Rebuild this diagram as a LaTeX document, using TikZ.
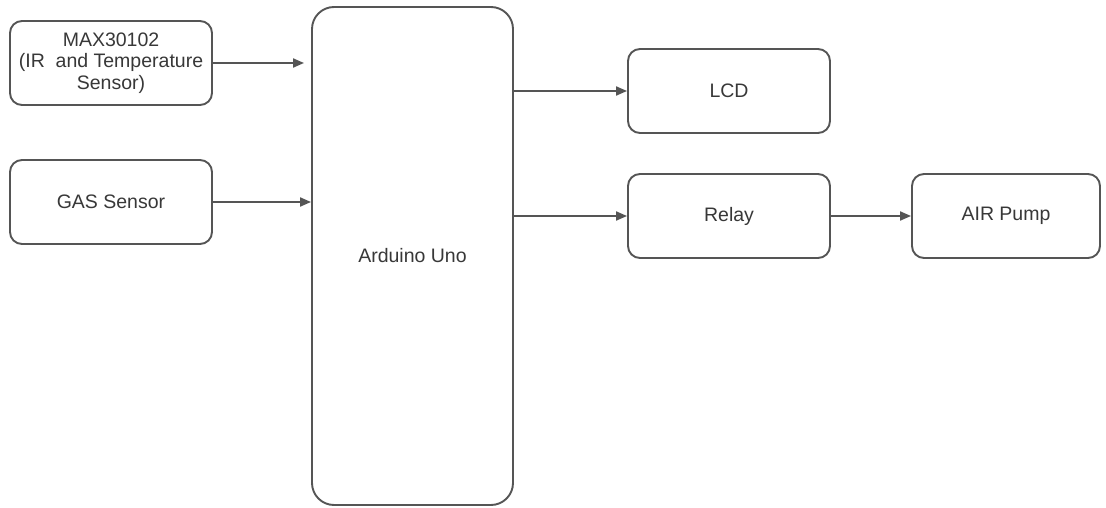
\documentclass[tikz,border=0pt]{standalone}
\usepackage{fontspec}
\setmainfont{Liberation Sans}
\usetikzlibrary{arrows.meta}
\definecolor{linegray}{HTML}{555555}
\definecolor{textgray}{HTML}{383838}
\tikzset{
  blk/.style={draw=linegray, line width=1.9pt, rounded corners=12pt, fill=white,
    minimum width=202pt, minimum height=84pt, inner sep=0pt, align=center,
    text=textgray, font=\fontsize{19.5pt}{21.5pt}\selectfont},
  conn/.style={draw=linegray, line width=2pt, -{Triangle[length=11pt,width=9pt]}}
}
\begin{document}
\begin{tikzpicture}[x=1pt,y=-1pt]
\useasboundingbox (0,0) rectangle (1106,508);
\node[blk] (max) at (111,63) {MAX30102\\(IR~ and Temperature\\Sensor)};
\node[blk] (gas) at (111,202) {GAS Sensor};
\node[blk, rounded corners=22pt, minimum width=201pt, minimum height=498pt] (ard) at (412.5,256) {Arduino Uno};
\node[blk, minimum height=84pt] (lcd) at (729,91) {LCD};
\node[blk, minimum height=84pt] (relay) at (729,216) {Relay};
\node[blk, minimum width=188pt, minimum height=84pt] (air) at (1006,216) {AIR Pump};
\draw[conn, shorten >=7pt] (max.east) -- (max.east -| ard.west);
\draw[conn] (gas.east) -- (gas.east -| ard.west);
\draw[conn] (lcd.west -| ard.east) -- (lcd.west);
\draw[conn] (relay.west -| ard.east) -- (relay.west);
\draw[conn] (relay.east) -- (relay.east -| air.west);
\end{tikzpicture}
\end{document}
